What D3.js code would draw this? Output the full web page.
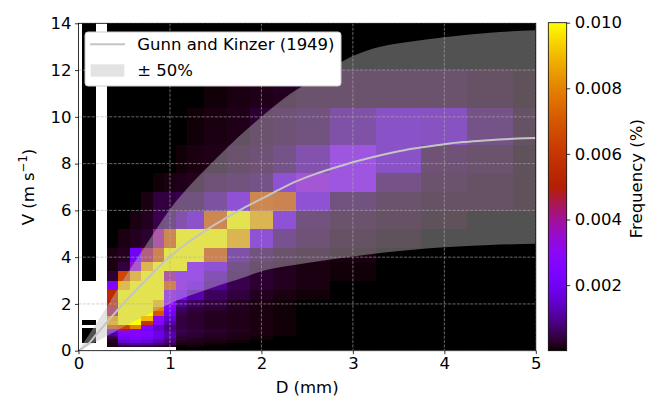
<!DOCTYPE html>
<html>
<head>
<meta charset="utf-8">
<script src="https://cdn.jsdelivr.net/npm/d3@7"></script>
<style>
  body { margin: 0; background: #fff; }
  text { font-family: "DejaVu Sans", sans-serif; fill: #000; }
</style>
</head>
<body>
<svg id="chart" width="650" height="398"></svg>
<script>
// Diameter bin edges (mm)
const dEdges = [0.04, 0.187, 0.312, 0.437, 0.562, 0.687, 0.812, 0.937, 1.062, 1.187,
  1.375, 1.625, 1.875, 2.125, 2.375, 2.75, 3.25, 3.75, 4.25, 4.75, 5.5];
// Fall velocity bin edges (m/s)
const vEdges = [0.05, 0.15, 0.25, 0.35, 0.45, 0.55, 0.65, 0.75, 0.85, 0.95, 1.1, 1.3,
  1.5, 1.7, 1.9, 2.2, 2.6, 3.0, 3.4, 3.8, 4.4, 5.2, 6.0, 6.8, 7.6, 8.8, 10.4, 12.0,
  13.6, 15.2];
// Occurrence frequency per (V, D) bin in units of 0.001 %, rows from low to high V.
// null marks bins without observations.
const _ = null;
const freq = [
  [_, _, _, _, _, _, _, _, 0, 0, 0, 0, 0, 0, 0, 0, 0, 0, 0, 0],
  [_, _, 0.1, 0.3, 0.4, 0.4, 0.3, 0.2, 0, 0.05, 0, 0, 0, 0, 0, 0, 0, 0, 0, 0],
  [_, _, 0.1, 0.8, 1.0, 0.9, 0.7, 0.5, 0.1, 0.1, 0.05, 0, 0, 0, 0, 0, 0, 0, 0, 0],
  [0, _, 0.2, 1.5, 1.8, 1.6, 1.2, 0.8, 0.2, 0.15, 0.1, 0.05, 0, 0, 0, 0, 0, 0, 0, 0],
  [0, _, 0.4, 2.0, 2.3, 2.1, 1.6, 1.0, 0.3, 0.2, 0.15, 0.1, 0.05, 0, 0, 0, 0, 0, 0, 0],
  [0, _, 0.6, 2.2, 2.5, 2.3, 1.8, 1.2, 0.3, 0.3, 0.2, 0.1, 0.05, 0, 0, 0, 0, 0, 0, 0],
  [0, _, 1.0, 2.5, 2.6, 2.4, 1.8, 1.2, 0.4, 0.3, 0.2, 0.1, 0.1, 0.05, 0, 0, 0, 0, 0, 0],
  [0, _, 1.5, 2.8, 2.6, 2.4, 1.8, 1.1, 0.5, 0.4, 0.3, 0.2, 0.1, 0.05, 0, 0, 0, 0, 0, 0],
  [0, _, 2.0, 4.0, 3.0, 2.2, 1.5, 1.0, 0.5, 0.4, 0.3, 0.2, 0.1, 0.05, 0, 0, 0, 0, 0, 0],
  [_, _, 7.0, 6.5, 8.0, 2.5, 1.5, 0.8, 0.4, 0.3, 0.2, 0.15, 0.1, 0.05, 0, 0, 0, 0, 0, 0],
  [0, _, 8.8, 12, 12, 6.0, 2.5, 1.2, 0.4, 0.3, 0.2, 0.15, 0.1, 0.05, 0, 0, 0, 0, 0, 0],
  [_, _, 8.5, 12, 12, 9.0, 3.0, 1.5, 0.4, 0.3, 0.2, 0.15, 0.1, 0.05, 0, 0, 0, 0, 0, 0],
  [_, _, 4.5, 12, 12, 12, 7.0, 2.0, 0.5, 0.3, 0.2, 0.15, 0.1, 0.05, 0, 0, 0, 0, 0, 0],
  [_, _, 4.5, 12, 12, 12, 8.0, 2.5, 0.6, 0.4, 0.3, 0.2, 0.1, 0.05, 0, 0, 0, 0, 0, 0],
  [_, _, 5.0, 12, 12, 12, 9.0, 2.8, 1.0, 0.6, 0.4, 0.2, 0.1, 0.05, 0, 0, 0, 0, 0, 0],
  [_, _, 5.5, 12, 12, 12, 12, 3.0, 2.2, 1.2, 0.6, 0.4, 0.2, 0.1, 0.05, 0, 0, 0, 0, 0],
  [_, _, 2.5, 9.0, 12, 12, 12, 7.0, 3.0, 2.0, 1.0, 0.5, 0.3, 0.2, 0.1, 0, 0, 0, 0, 0],
  [0, _, 0.3, 6.5, 8.8, 12, 12, 4.0, 2.5, 2.5, 1.2, 0.5, 0.3, 0.2, 0.1, 0.05, 0, 0, 0, 0],
  [0, _, 0.1, 0.4, 3.5, 8.8, 12, 12, 12, 2.5, 1.8, 0.6, 0.3, 0.2, 0.1, 0.05, 0, 0, 0, 0],
  [0, _, 0.1, 0.2, 2.0, 4.5, 7.0, 12, 12, 12, 7.0, 1.0, 0.5, 0.3, 0.2, 0.1, 0, 0, 0, 0],
  [0, _, 0, 0.1, 0.2, 0.3, 4.0, 7.2, 12, 12, 12, 8.8, 1.8, 0.7, 0.4, 0.2, 0.1, 0, 0, 0],
  [0, _, 0, 0, 0.1, 0.2, 0.5, 0.6, 1.1, 1.6, 7.2, 12, 8.8, 1.8, 0.5, 0.3, 0.2, 0.1, 0, 0],
  [0, _, 0, 0, 0, 0.1, 0.4, 0.4, 0.5, 0.5, 0.9, 1.8, 7.2, 7.0, 1.8, 0.5, 0.3, 0.2, 0.2, 0.1],
  [0, _, 0, 0, 0, 0, 0.05, 0.1, 0.15, 0.2, 0.4, 0.5, 0.6, 1.8, 3.2, 2.8, 0.6, 0.3, 0.2, 0.1],
  [0, _, 0, 0, 0, 0, 0, 0, 0.05, 0.1, 0.15, 0.3, 0.4, 0.6, 1.1, 2.8, 1.5, 0.4, 0.3, 0.1],
  [0, _, 0, 0, 0, 0, 0, 0, 0, 0.05, 0.1, 0.15, 0.3, 0.4, 0.5, 1.0, 1.5, 1.4, 0.6, 0.2],
  [0, _, 0, 0, 0, 0, 0, 0, 0, 0, 0.05, 0.1, 0.15, 0.2, 0.3, 0.3, 0.3, 0.3, 0.2, 0.1],
  [0, _, 0, 0, 0, 0, 0, 0, 0, 0, 0, 0, 0, 0, 0, 0, 0, 0, 0, 0],
  [0, _, 0, 0, 0, 0, 0, 0, 0, 0, 0, 0, 0, 0, 0, 0, 0, 0, 0, 0]
];
// Gunn and Kinzer (1949) terminal velocities
const gkD = [0, 0.1, 0.2, 0.3, 0.4, 0.5, 0.6, 0.7, 0.8, 0.9, 1.0, 1.2, 1.4, 1.6, 1.8,
  2.0, 2.2, 2.4, 2.6, 2.8, 3.0, 3.2, 3.4, 3.6, 3.8, 4.0, 4.2, 4.4, 4.6, 4.8, 5.0];
const gkV = [0, 0.27, 0.72, 1.17, 1.62, 2.06, 2.47, 2.87, 3.27, 3.67, 4.03, 4.64, 5.17,
  5.65, 6.09, 6.49, 6.90, 7.27, 7.57, 7.82, 8.06, 8.26, 8.44, 8.60, 8.72, 8.83, 8.92,
  8.98, 9.03, 9.07, 9.09];
// ±50 % envelope
const bandD  = [0, 0.25, 0.5, 0.75, 1.0, 1.25, 1.5, 1.75, 2.0, 2.25, 2.5, 2.75, 3.0, 3.3, 3.6, 4.0, 4.5, 5.0];
const bandHi = [0, 1.5, 3.1, 4.6, 6.05, 7.2, 8.2, 9.15, 10.0, 10.8, 11.45, 12.05, 12.6, 13.0, 13.2, 13.4, 13.6, 13.7];
const bandLo = [0, 0.5, 1.03, 1.53, 2.02, 2.4, 2.75, 3.05, 3.4, 3.6, 3.75, 3.9, 4.03, 4.18, 4.3, 4.42, 4.52, 4.57];

const xTicks = [0, 1, 2, 3, 4, 5];
const yTicks = [0, 2, 4, 6, 8, 10, 12, 14];
const cbTicks = [0.002, 0.004, 0.006, 0.008, 0.010];
const legendLabels = ["Gunn and Kinzer (1949)", "\u00b1 50%"];

// ---- layout ----
const svg = d3.select("#chart");
const plot = { left: 78.5, right: 535.8, top: 23.3, bottom: 350.7 };
const cb = { left: 548.3, right: 566.7, top: 22.7, bottom: 350.7 };
const FS = 16.5;

const x = d3.scaleLinear().domain([0, 5]).range([plot.left, plot.right]);
const y = d3.scaleLinear().domain([0, 14]).range([plot.bottom, plot.top]);
const cScale = d3.scaleLinear().domain([0, 0.010]).range([cb.bottom, cb.top]);

// gnuplot-style colormap: r = sqrt(t), g = t^3, b = sin(2*pi*t)
function gnuplot(t) {
  t = Math.max(0, Math.min(1, t));
  const r = Math.sqrt(t), g = t * t * t, b = Math.max(0, Math.sin(2 * Math.PI * t));
  return d3.rgb(r * 255, g * 255, b * 255).formatHex();
}
const color = v => gnuplot(v / 0.010);

const defs = svg.append("defs");
defs.append("clipPath").attr("id", "plotClip")
  .append("rect")
  .attr("x", plot.left).attr("y", plot.top)
  .attr("width", plot.right - plot.left).attr("height", plot.bottom - plot.top);

// white axes background
svg.append("rect")
  .attr("x", plot.left).attr("y", plot.top)
  .attr("width", plot.right - plot.left).attr("height", plot.bottom - plot.top)
  .attr("fill", "#fff");

const gPlot = svg.append("g").attr("clip-path", "url(#plotClip)");

// histogram cells
const cells = [];
freq.forEach((row, i) => row.forEach((v, j) => {
  if (v !== null) cells.push({ i, j, v: v / 1000 });
}));
gPlot.append("g").attr("shape-rendering", "crispEdges")
  .selectAll("rect").data(cells).join("rect")
  .attr("x", d => x(dEdges[d.j]))
  .attr("y", d => y(vEdges[d.i + 1]))
  .attr("width", d => x(dEdges[d.j + 1]) - x(dEdges[d.j]) + 0.3)
  .attr("height", d => y(vEdges[d.i]) - y(vEdges[d.i + 1]) + 0.3)
  .attr("fill", d => color(d.v));

// ±50 % band
const bandData = bandD.map((d, k) => ({ d, lo: bandLo[k], hi: bandHi[k] }));
const BAND_FILL = "#bebebe", BAND_OPACITY = 0.43;
gPlot.append("path")
  .datum(bandData)
  .attr("d", d3.area().x(d => x(d.d)).y0(d => y(d.lo)).y1(d => y(d.hi)).curve(d3.curveMonotoneX))
  .attr("fill", BAND_FILL).attr("fill-opacity", BAND_OPACITY);

// grid
const grid = gPlot.append("g").attr("stroke", "#b0b0b0").attr("stroke-width", 0.8)
  .attr("stroke-dasharray", "3,1.4").attr("stroke-opacity", 0.75);
grid.selectAll("line.gx").data(xTicks).join("line")
  .attr("x1", d => x(d)).attr("x2", d => x(d)).attr("y1", plot.top).attr("y2", plot.bottom);
grid.selectAll("line.gy").data(yTicks).join("line")
  .attr("y1", d => y(d)).attr("y2", d => y(d)).attr("x1", plot.left).attr("x2", plot.right);

// Gunn and Kinzer curve
const gkData = gkD.map((d, k) => ({ d, v: gkV[k] }));
const LINE_COLOR = "#c4c4c4";
gPlot.append("path")
  .datum(gkData)
  .attr("d", d3.line().x(d => x(d.d)).y(d => y(d.v)).curve(d3.curveMonotoneX))
  .attr("fill", "none").attr("stroke", LINE_COLOR).attr("stroke-width", 2);

// axes
const xAxis = d3.axisBottom(x).tickValues(xTicks).tickFormat(d3.format("d")).tickSizeOuter(0).tickSize(3.5).tickPadding(3.5);
const yAxis = d3.axisLeft(y).tickValues(yTicks).tickFormat(d3.format("d")).tickSizeOuter(0).tickSize(3.5).tickPadding(3.5);
const gx = svg.append("g").attr("transform", `translate(0,${plot.bottom})`).call(xAxis);
const gy = svg.append("g").attr("transform", `translate(${plot.left},0)`).call(yAxis);
[gx, gy].forEach(g => {
  g.select(".domain").remove();
  g.selectAll(".tick line").attr("stroke", "#000").attr("stroke-width", 0.8);
  g.selectAll(".tick text").attr("font-size", FS).attr("font-family", "DejaVu Sans").attr("fill", "#000");
});

// frame
svg.append("rect")
  .attr("x", plot.left).attr("y", plot.top)
  .attr("width", plot.right - plot.left).attr("height", plot.bottom - plot.top)
  .attr("fill", "none").attr("stroke", "#000").attr("stroke-width", 0.8);

// axis titles
svg.append("text").attr("x", (plot.left + plot.right) / 2).attr("y", 392.5)
  .attr("text-anchor", "middle").attr("font-size", FS).text("D (mm)");
const yl = svg.append("text")
  .attr("transform", `translate(33.5,${(plot.top + plot.bottom) / 2}) rotate(-90)`)
  .attr("text-anchor", "middle").attr("font-size", FS);
yl.append("tspan").text("V (m s");
yl.append("tspan").attr("font-size", FS * 0.7).attr("dy", -7).text("\u22121");
yl.append("tspan").attr("dy", 7).text(")");

// legend
const lg = svg.append("g");
lg.append("rect").attr("x", 85).attr("y", 32).attr("width", 256).attr("height", 54)
  .attr("rx", 3).attr("fill", "#fff").attr("stroke", "#cccccc").attr("stroke-width", 1);
lg.append("line").attr("x1", 90).attr("x2", 125).attr("y1", 44.3).attr("y2", 44.3)
  .attr("stroke", LINE_COLOR).attr("stroke-width", 2);
lg.append("rect").attr("x", 90.7).attr("y", 64.3).attr("width", 33.6).attr("height", 12.4)
  .attr("fill", BAND_FILL).attr("fill-opacity", BAND_OPACITY);
lg.selectAll("text").data(legendLabels).join("text")
  .attr("x", 137.3).attr("y", (d, k) => 50.2 + k * 26)
  .attr("font-size", FS).text(d => d);

// colorbar
const grad = defs.append("linearGradient").attr("id", "cbGrad")
  .attr("x1", 0).attr("y1", 1).attr("x2", 0).attr("y2", 0);
d3.range(0, 1.0001, 0.01).forEach(t => {
  grad.append("stop").attr("offset", t).attr("stop-color", gnuplot(t));
});
svg.append("rect").attr("x", cb.left).attr("y", cb.top)
  .attr("width", cb.right - cb.left).attr("height", cb.bottom - cb.top)
  .attr("fill", "url(#cbGrad)").attr("stroke", "#000").attr("stroke-width", 0.8);
const cbAxis = d3.axisRight(cScale).tickValues(cbTicks).tickFormat(d3.format(".3f"))
  .tickSize(3.5).tickPadding(4.5);
const gcb = svg.append("g").attr("transform", `translate(${cb.right},0)`).call(cbAxis);
gcb.select(".domain").remove();
gcb.selectAll(".tick line").attr("stroke", "#000").attr("stroke-width", 0.8);
gcb.selectAll(".tick text").attr("font-size", FS).attr("font-family", "DejaVu Sans").attr("fill", "#000");
svg.append("text")
  .attr("transform", `translate(642,${(cb.top + cb.bottom) / 2 - 8}) rotate(-90)`)
  .attr("text-anchor", "middle").attr("font-size", FS).text("Frequency (%)");
</script>
</body>
</html>
